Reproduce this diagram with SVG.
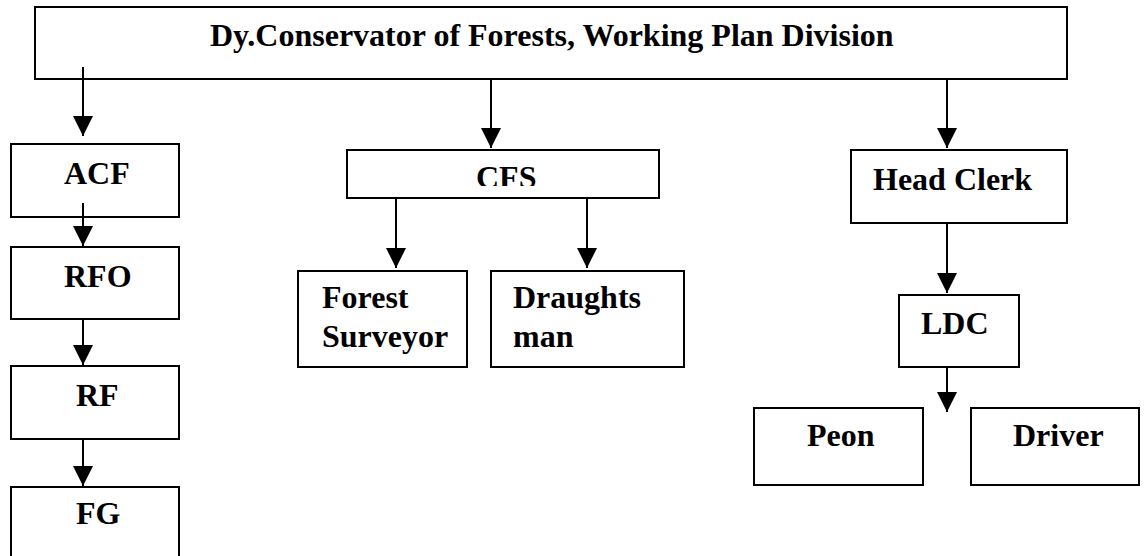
<svg xmlns="http://www.w3.org/2000/svg" width="1147" height="556" viewBox="0 0 1147 556">
<style>
.box{fill:#fff;stroke:#000;stroke-width:2}
.lbl{font-family:"Liberation Serif","Times New Roman",serif;font-weight:bold;font-size:32px;fill:#000}
.con{stroke:#000;stroke-width:2;fill:none;marker-end:url(#ah)}
</style>
<defs>
<marker id="ah" markerUnits="userSpaceOnUse" markerWidth="20" markerHeight="20" viewBox="0 0 20 20" refX="20" refY="10" orient="auto">
<path d="M0,0 L20,10 L0,20 z" fill="#000"/>
</marker>
<clipPath id="cfsclip"><rect x="347" y="150" width="312" height="36"/></clipPath>
</defs>
<rect width="1147" height="556" fill="#fff"/>
<g id="n-top"><rect class="box" x="35" y="7" width="1032" height="72"/><text class="lbl" x="210" y="46">Dy.Conservator of Forests, Working Plan Division</text></g>
<g id="n-acf"><rect class="box" x="11" y="144" width="168" height="73"/><text class="lbl" x="64" y="184">ACF</text></g>
<g id="n-rfo"><rect class="box" x="11" y="247" width="168" height="72"/><text class="lbl" x="64" y="287">RFO</text></g>
<g id="n-rf"><rect class="box" x="11" y="366" width="168" height="73"/><text class="lbl" x="76" y="406">RF</text></g>
<g id="n-fg"><rect class="box" x="11" y="487" width="168" height="100"/><text class="lbl" x="76" y="524">FG</text></g>
<g id="n-cfs"><rect class="box" x="347" y="150" width="312" height="48"/><text class="lbl" x="476" y="188" clip-path="url(#cfsclip)">CFS</text></g>
<g id="n-fs"><rect class="box" x="298" y="271" width="169" height="96"/><text class="lbl" x="322" y="308">Forest</text><text class="lbl" x="322" y="347">Surveyor</text></g>
<g id="n-dm"><rect class="box" x="491" y="271" width="193" height="96"/><text class="lbl" x="513" y="308">Draughts</text><text class="lbl" x="513" y="347">man</text></g>
<g id="n-hc"><rect class="box" x="851" y="150" width="216" height="73"/><text class="lbl" x="873" y="190">Head Clerk</text></g>
<g id="n-ldc"><rect class="box" x="899" y="295" width="120" height="72"/><text class="lbl" x="921" y="334">LDC</text></g>
<g id="n-peon"><rect class="box" x="754" y="408" width="169" height="77"/><text class="lbl" x="807" y="446">Peon</text></g>
<g id="n-driver"><rect class="box" x="971" y="408" width="168" height="77"/><text class="lbl" x="1013" y="446">Driver</text></g>
<g id="connectors">
<line class="con" x1="83" y1="67" x2="83" y2="136"/>
<line class="con" x1="491" y1="79" x2="491" y2="148"/>
<line class="con" x1="947" y1="79" x2="947" y2="148"/>
<line class="con" x1="83" y1="203" x2="83" y2="246"/>
<line class="con" x1="83" y1="319" x2="83" y2="365"/>
<line class="con" x1="83" y1="439" x2="83" y2="486"/>
<line class="con" x1="396" y1="198" x2="396" y2="268"/>
<line class="con" x1="587" y1="198" x2="587" y2="268"/>
<line class="con" x1="947" y1="223" x2="947" y2="293"/>
<line class="con" x1="947" y1="367" x2="947" y2="412"/>
</g>
</svg>
